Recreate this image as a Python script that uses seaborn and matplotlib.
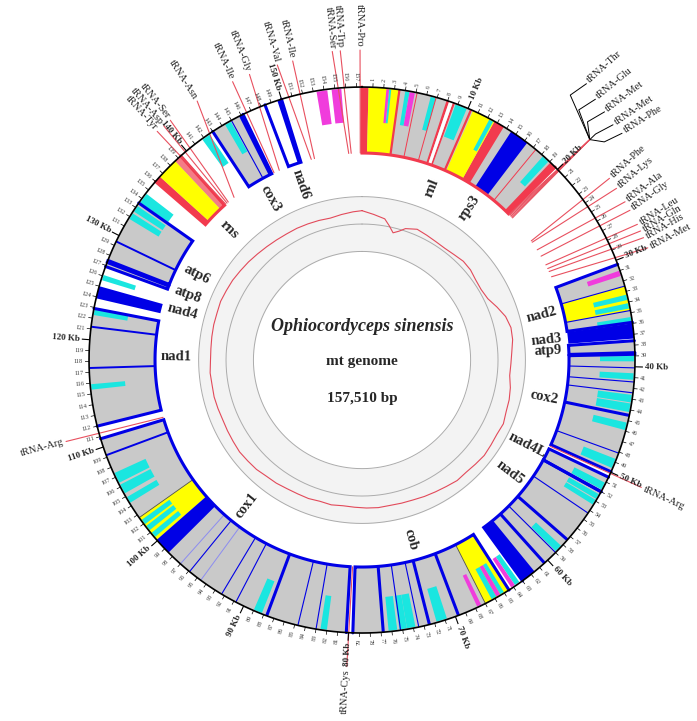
import numpy as np
import pandas as pd
import matplotlib
matplotlib.use("Agg")
import matplotlib.pyplot as plt
import seaborn as sns

GENOME_KB = 157.51
GENOME_BP = 157510

# genes (kb)
gene_names = ["rnl", "rps3", "nad2", "nad3", "atp9", "cox2", "nad4L", "nad5", "cob", "cox1",
              "nad1", "nad4", "atp8", "atp6", "rns", "cox3", "nad6"]
gene_start = [0.0, 14.5, 30.4, 36.0, 37.6, 38.85, 50.5, 52.0, 64.5, 80.2,
              112.0, 123.85, 126.9, 127.5, 136.0, 143.0, 148.4]
gene_end = [19.7, 16.3, 35.9, 37.4, 38.7, 49.95, 52.0, 63.0, 79.6, 110.8,
            122.9, 125.0, 127.3, 133.5, 139.3, 146.2, 150.0]
gene_type = ["rRNA", "solid", "box", "solid", "box", "box", "box", "box", "box", "box",
             "box", "solid", "box", "box", "rRNA", "box", "open"]

# filled blocks inside genes (exons, yellow regions, gaps)
block_start = [0.0, 7.9, 8.5, 12.7, 19.1, 136.0, 138.6,
               0.6, 10.5, 32.5, 64.5, 100.1, 136.6,
               8.15,
               61.6, 98.5, 145.8, 149.6]
block_end = [0.6, 8.15, 8.7, 13.7, 19.7, 136.6, 139.3,
             3.4, 12.7, 34.8, 67.0, 102.7, 138.6,
             8.5,
             63.0, 100.1, 146.2, 150.0]
block_kind = ["red"] * 6 + ["salmon"] + ["yellow"] * 6 + ["gap"] + ["exon"] * 4

# radial boundaries inside genes
div_pos = [3.45, 10.3, 5.1, 6.9, 17.3,
           32.5, 34.8, 40.1, 41.4, 42.4, 48.1, 54.3, 59.0, 73.5, 75.2, 83.0, 84.7, 90.8, 92.3, 95.9, 145.0,
           44.5, 57.4, 60.4, 69.7, 72.5, 76.8, 87.7,
           109.2, 117.4, 121.2, 129.4,
           94.6, 97.0,
           67.0, 102.7]
div_kind = ["redthick"] * 2 + ["red"] * 3 + ["thin"] * 16 + ["thick"] * 7 + ["mid"] * 4 + ["faint"] * 2 + ["dark"] * 2

# ORFs
orf_start = [2.25, 2.5, 4.0, 4.4, 6.4, 8.8, 12.2, 18.2,
             31.0, 33.3, 34.1, 35.4,
             39.0, 40.6, 42.6, 43.4, 45.2, 48.7,
             51.1, 52.3, 52.9, 58.2,
             63.3, 63.8, 65.0, 65.4, 65.8, 67.4,
             70.8, 73.8, 74.6, 75.5,
             82.0, 88.2, 100.4, 101.2, 101.9, 104.3, 105.3, 106.4,
             115.4, 122.3, 125.6, 131.8, 132.6, 133.6, 141.8, 144.3,
             153.3, 154.7]
orf_end = [2.5, 2.7, 4.4, 4.9, 6.9, 9.9, 12.6, 18.9,
           31.5, 33.8, 34.6, 35.9,
           39.5, 41.2, 43.3, 44.2, 45.9, 49.6,
           51.8, 52.8, 53.4, 58.9,
           63.8, 64.2, 65.4, 65.8, 66.3, 67.8,
           71.8, 74.6, 75.3, 76.3,
           82.6, 89.0, 100.9, 101.7, 102.4, 104.9, 106.2, 107.4,
           115.9, 122.8, 126.1, 132.4, 133.2, 134.6, 142.6, 144.9,
           154.3, 155.6]
orf_kind = ["m", "c", "c", "m", "c", "c", "c", "c",
            "m", "c", "c", "c",
            "c", "c", "c", "c", "c", "c",
            "c", "c", "c", "c",
            "c", "m", "c", "m", "c", "m",
            "c", "c", "c", "c",
            "c", "c", "c", "c", "c", "c", "c", "c",
            "c", "c", "c", "c", "c", "c", "c", "c",
            "m", "m"]

# tRNAs
trna_names = ["tRNA-Pro", "tRNA-Trp", "tRNA-Ser",
              "tRNA-Thr", "tRNA-Glu", "tRNA-Met", "tRNA-Met", "tRNA-Phe",
              "tRNA-Phe", "tRNA-Lys", "tRNA-Ala", "tRNA-Gly", "tRNA-Leu", "tRNA-Gln", "tRNA-His", "tRNA-Met",
              "tRNA-Arg", "tRNA-Cys", "tRNA-Arg",
              "tRNA-Tyr", "tRNA-Asp", "tRNA-Ser", "tRNA-Asn", "tRNA-Ile", "tRNA-Gly", "tRNA-Val", "tRNA-Ile"]
trna_pos = [157.3, 156.2, 155.9,
            19.8, 19.95, 20.1, 20.25, 20.4,
            24.0, 24.2, 25.3, 26.2, 27.4, 27.9, 28.3, 29.0,
            50.15, 79.9, 111.1,
            139.5, 139.7, 139.9, 140.8, 146.5, 147.2, 151.3, 151.7]

# GC content (%) along the genome
gc_kb = [0, 2, 4, 5, 6, 7, 8] + list(range(10, 157, 2))
gc_pct = [33.6, 32.1, 30.7, 28.0, 25.2, 26.6, 28.6,
          30.2, 29.6, 29.1, 28.9, 29.3, 30.0, 29.8, 28.9, 28.6, 29.3,
          31.6, 33.9, 35.0, 34.8, 33.9, 33.4, 33.2, 34.3, 35.0, 35.3,
          36.2, 35.7, 35.9, 36.2, 35.7, 35.3, 35.5, 34.8, 34.3, 33.9,
          33.4, 33.2, 33.0, 33.2, 33.0, 32.7, 32.5, 33.0, 32.7, 33.2,
          33.2, 33.4, 33.9, 34.1, 34.8, 35.0, 35.3, 35.0, 34.8, 34.6,
          34.8, 35.0, 34.8, 35.0, 34.6, 34.6, 34.8, 35.0, 35.0, 35.3,
          35.0, 34.8, 34.3, 33.9, 33.4, 33.0, 32.7, 32.5, 32.5, 32.3,
          32.1, 31.8, 32.5, 33.2]

# ---- layout ----
R_IN, R_OUT = 207, 273
GC_IN, GC_MID, GC_OUT = 108.6, 136.0, 163.4
GC_LO, GC_HI = 15.0, 40.0
HUB_KB, HUB_R = 20.1, 317
trna_label_kb = [157.35, 155.75, 155.1,
                 17.1, 18.3, 19.4, 20.5, 21.4,
                 23.5, 24.5, 25.8, 26.6, 27.9, 28.5, 29.1, 30.0,
                 50.1, 80.0, 111.4,
                 139.2, 139.9, 140.6, 143.3, 146.6, 148.1, 150.5, 151.8]
cluster_label_r = [359, 353, 350, 347, 348]
label_nudge = {"nad5": -1.8, "nad1": 1.1, "nad4": 0.3, "atp6": -0.4, "rnl": -0.2}

BLUE = "#0000e6"
GRAY = "#c9c9c9"
CYAN = "#1ae6e0"
MAGENTA = "#f03cdc"
YELLOW = "#ffff00"
RED = "#f23a4e"
SALMON = "#f47c86"
TRNA_RED = "#e8505f"
block_color = {"red": RED, "salmon": SALMON, "yellow": YELLOW, "gap": "white", "exon": BLUE}
div_style = {"thin": (BLUE, 0.8), "thick": (BLUE, 2.2), "mid": (BLUE, 1.4),
             "faint": ("#8c8cf0", 0.7), "dark": ("#505050", 0.6),
             "red": (RED, 0.7), "redthick": (RED, 1.6)}


def th(kb):
    return np.asarray(kb, dtype=float) / GENOME_KB * 2 * np.pi


def radial(kb):
    phi = (kb / GENOME_KB * 360.0) % 360.0
    if phi <= 180:
        return 90 - phi, "left"
    return 270 - phi, "right"


def band(ax, s, e, r0, r1, color):
    s = np.asarray(s, dtype=float)
    e = np.asarray(e, dtype=float)
    ax.bar(th((s + e) / 2), r1 - r0, width=th(e - s), bottom=r0,
           color=color, edgecolor="none", linewidth=0, align="center")


sns.set_theme(style="white")
plt.rcParams["font.family"] = ["Liberation Serif", "DejaVu Serif"]

fig = plt.figure(figsize=(6.97, 7.21), dpi=100)
ax = fig.add_axes([0.0316, 0.0291, 0.9756, 0.9431], projection="polar")
ax.set_theta_zero_location("N")
ax.set_theta_direction(-1)
ax.set_ylim(0, 340)
ax.axis("off")

# GC track
grid = np.linspace(0, 2 * np.pi, 721)
ax.fill_between(grid, GC_IN, GC_OUT, color="#f3f3f3", lw=0)
for r in (GC_IN, GC_MID, GC_OUT):
    ax.plot(grid, np.full_like(grid, r), color="#ababab", lw=0.7)
gc = pd.DataFrame({"kb": gc_kb + [GENOME_KB], "pct": gc_pct + [gc_pct[0]]})
gc["theta"] = th(gc.kb)
gc["r"] = GC_IN + (gc.pct - GC_LO) / (GC_HI - GC_LO) * (GC_OUT - GC_IN)
sns.lineplot(data=gc, x="theta", y="r", ax=ax, sort=False, estimator=None,
             color="#e24a5a", lw=0.8)

# genes
genes = pd.DataFrame({"name": gene_names, "start": gene_start, "end": gene_end, "type": gene_type})
fill_of = {"rRNA": GRAY, "box": GRAY, "solid": BLUE, "open": "white"}
for _, g in genes.iterrows():
    band(ax, g.start, g.end, R_IN, R_OUT, fill_of[g.type])

for kind in block_color:
    idx = [i for i, k in enumerate(block_kind) if k == kind]
    band(ax, [block_start[i] for i in idx], [block_end[i] for i in idx], R_IN, R_OUT, block_color[kind])

orf_r = 238
for kind, col in (("c", CYAN), ("m", MAGENTA)):
    idx = [i for i, k in enumerate(orf_kind) if k == kind]
    band(ax, [orf_start[i] for i in idx], [orf_end[i] for i in idx], orf_r, R_OUT - 1, col)

for kind, (col, lw) in div_style.items():
    pos = [p for p, k in zip(div_pos, div_kind) if k == kind]
    ax.vlines(th(pos), R_IN, R_OUT, color=col, lw=lw)

for _, g in genes.iterrows():
    if g.type == "solid":
        continue
    col = RED if g.type == "rRNA" else BLUE
    arc = th(np.linspace(g.start, g.end, 60))
    tt = np.concatenate([[arc[0]], arc, [arc[-1]]])
    rr = np.concatenate([[R_OUT], np.full(60, R_IN), [R_OUT]])
    ax.plot(tt, rr, color=col, lw=2.2, solid_joinstyle="miter")

# tRNAs
trna = pd.DataFrame({"name": trna_names, "pos": trna_pos, "label_kb": trna_label_kb})
for i, t in trna.iterrows():
    if 3 <= i <= 7:
        r_lab = cluster_label_r[i - 3]
        ax.plot([th(t.pos), th(HUB_KB)], [R_IN, HUB_R], color=TRNA_RED, lw=0.8, clip_on=False)
        ax.plot([th(HUB_KB), th(t.label_kb - 0.4), th(t.label_kb)], [HUB_R, r_lab - 22, r_lab - 3],
                color="black", lw=0.7, clip_on=False)
        rot, ha = radial(t.label_kb)
        rot -= 9
    else:
        r_lab = 313 if i < 3 else 310
        ax.plot([th(t.pos), th(t.label_kb)], [R_IN, r_lab - 3], color=TRNA_RED, lw=0.8, clip_on=False)
        rot, ha = radial(t.label_kb)
        if 8 <= i <= 15:
            rot += 6
    ax.text(th(t.label_kb), r_lab, t["name"], rotation=rot, rotation_mode="anchor",
            ha=ha, va="center", fontsize=7.5, color="#222222")

# outer ring and kb scale
ax.plot(grid, np.full_like(grid, R_OUT), color="black", lw=1.2)
kb_ticks = np.arange(1, 158)
major = kb_ticks % 10 == 0
ax.vlines(th(kb_ticks[~major]), R_OUT, R_OUT + 4, color="black", lw=0.5)
ax.vlines(th(kb_ticks[major]), R_OUT, R_OUT + 8, color="black", lw=0.8)
for k in kb_ticks:
    rot, ha = radial(k)
    if k % 10 == 0:
        ax.text(th(k), R_OUT + 10, f"{k} Kb", rotation=rot, rotation_mode="anchor", ha=ha,
                va="center", fontsize=6.5, fontweight="bold")
    else:
        ax.text(th(k), R_OUT + 6, str(k), rotation=rot, rotation_mode="anchor", ha=ha,
                va="center", fontsize=4.5, color="#3a3a3a")

# gene labels
for _, g in genes.iterrows():
    kb = (g.start + g.end) / 2 + label_nudge.get(g["name"], 0.0)
    rot, _ = radial(kb)
    ax.text(th(kb), 186, g["name"], rotation=rot, rotation_mode="anchor", ha="center",
            va="center", fontsize=10.5, fontweight="bold")

ax.text(0.5, 0.5486, "Ophiocordyceps sinensis", transform=ax.transAxes, ha="center", va="center",
        fontsize=13, fontweight="bold", fontstyle="italic")
ax.text(0.5, 0.4975, "mt genome", transform=ax.transAxes, ha="center", va="center",
        fontsize=11, fontweight="bold")
ax.text(0.5, 0.4437, f"{GENOME_BP:,} bp", transform=ax.transAxes, ha="center", va="center",
        fontsize=11, fontweight="bold")

fig.savefig("out.png", dpi=100)
plt.close(fig)
